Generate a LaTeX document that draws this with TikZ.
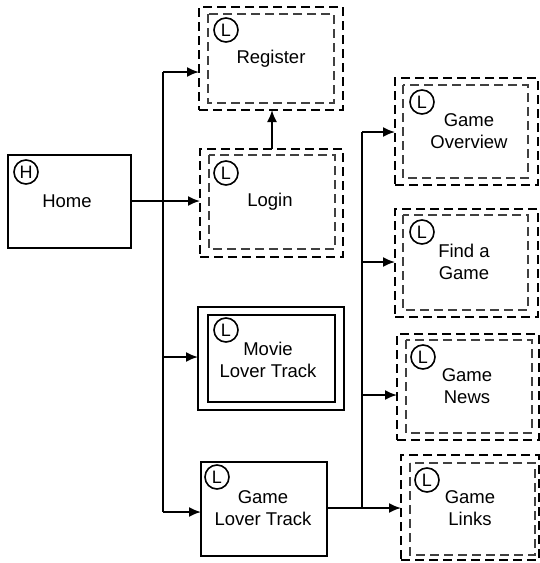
\documentclass[tikz,border=0pt]{standalone}
\usepackage{fontspec}
\setmainfont{Liberation Sans}
\usetikzlibrary{arrows.meta}
\begin{document}
\begin{tikzpicture}[x=1pt,y=-1pt,
  box/.style={draw=black,line width=1.8pt,inner sep=0pt,outer sep=0pt},
  dbox/.style={draw=black,line width=2pt,dash pattern=on 9pt off 5pt,inner sep=0pt,outer sep=0pt},
  innerd/.style={draw=black!75,line width=1.8pt,dash pattern=on 9pt off 5pt},
  inners/.style={draw=black,line width=1.8pt},
  lbl/.style={align=center,font=\fontsize{18.5}{22}\selectfont,inner sep=0pt},
  badge/.style={circle,draw=black,line width=1.6pt,minimum size=24pt,inner sep=0pt,font=\fontsize{18}{18}\selectfont},
  conn/.style={line width=1.8pt},
  arr/.style={line width=1.8pt,-{Latex[length=12pt,width=10pt]}}]
\useasboundingbox[fill=white] (0,0) rectangle (540,563);

% boxes
\node[box,minimum width=123pt,minimum height=93pt] (home) at (69.5,201.5) {};
\node[dbox,minimum width=144pt,minimum height=103pt] (reg) at (271,58.5) {};
\draw[innerd] (208,14) rectangle (334,103);
\node[dbox,minimum width=143pt,minimum height=108pt] (login) at (271.5,203) {};
\draw[innerd] (209,155) rectangle (335,249);
\node[box,minimum width=146pt,minimum height=103pt] (movie) at (271,358.5) {};
\draw[inners] (208,315) rectangle (335,402);
\node[box,minimum width=126pt,minimum height=94pt] (glt) at (264,509) {};
\node[dbox,minimum width=143pt,minimum height=107pt] (gov) at (466.5,131.5) {};
\draw[innerd] (403,85) rectangle (528,178);
\node[dbox,minimum width=143pt,minimum height=108pt] (fag) at (466.5,263) {};
\draw[innerd] (403,215) rectangle (528,310);
\node[dbox,minimum width=142pt,minimum height=106pt] (gnews) at (468,387) {};
\draw[innerd] (406,340) rectangle (532,433);
\node[dbox,minimum width=138pt,minimum height=105pt] (glinks) at (470,507.5) {};
\draw[innerd] (410,463) rectangle (535,555);

% badges
\node[badge] (bh) at (26,172) {H};
\node[badge] (b1) at (226,30) {L};
\node[badge] (b2) at (226,173) {L};
\node[badge] (b3) at (226,330) {L};
\node[badge] (b4) at (217,477) {L};
\node[badge] (b5) at (422,102) {L};
\node[badge] (b6) at (422,232) {L};
\node[badge] (b7) at (423,357) {L};
\node[badge] (b8) at (427,480) {L};

% labels
\node[lbl] (thome) at (67,201) {Home};
\node[lbl] (treg) at (271,59) {Register};
\node[lbl] (tlogin) at (270,202) {Login};
\node[lbl] (tmovie) at (268,360) {Movie\\Lover Track};
\node[lbl] (tglt) at (263,508) {Game\\Lover Track};
\node[lbl] (tgov) at (469,131) {Game\\Overview};
\node[lbl] (tfag) at (464,262) {Find a\\Game};
\node[lbl] (tgnews) at (467,386) {Game\\News};
\node[lbl] (tglinks) at (470,508) {Game\\Links};

% left connectors
\coordinate (j1) at (163,72);
\coordinate (j2) at (163,357);
\coordinate (j3) at (163,512);
\draw[conn] (j1) -- (j3);
\draw[arr] (home.east |- 0,201) -- (login.west |- 0,201);
\draw[arr] (j1) -- (j1 -| reg.west);
\draw[arr] (j2) -- (j2 -| movie.west);
\draw[arr] (j3) -- (j3 -| glt.west);
\draw[arr] (login.north -| 272,0) -- (reg.south -| 272,0);

% right connectors
\coordinate (k1) at (362,132);
\coordinate (k2) at (362,262);
\coordinate (k3) at (362,395);
\coordinate (k4) at (362,508);
\draw[conn] (k1) -- (k4);
\draw[conn] (glt.east |- k4) -- (k4);
\draw[arr] (k1) -- (k1 -| gov.west);
\draw[arr] (k2) -- (k2 -| fag.west);
\draw[arr] (k3) -- (k3 -| gnews.west);
\draw[arr] (k4) -- (k4 -| glinks.west);
\end{tikzpicture}
\end{document}
